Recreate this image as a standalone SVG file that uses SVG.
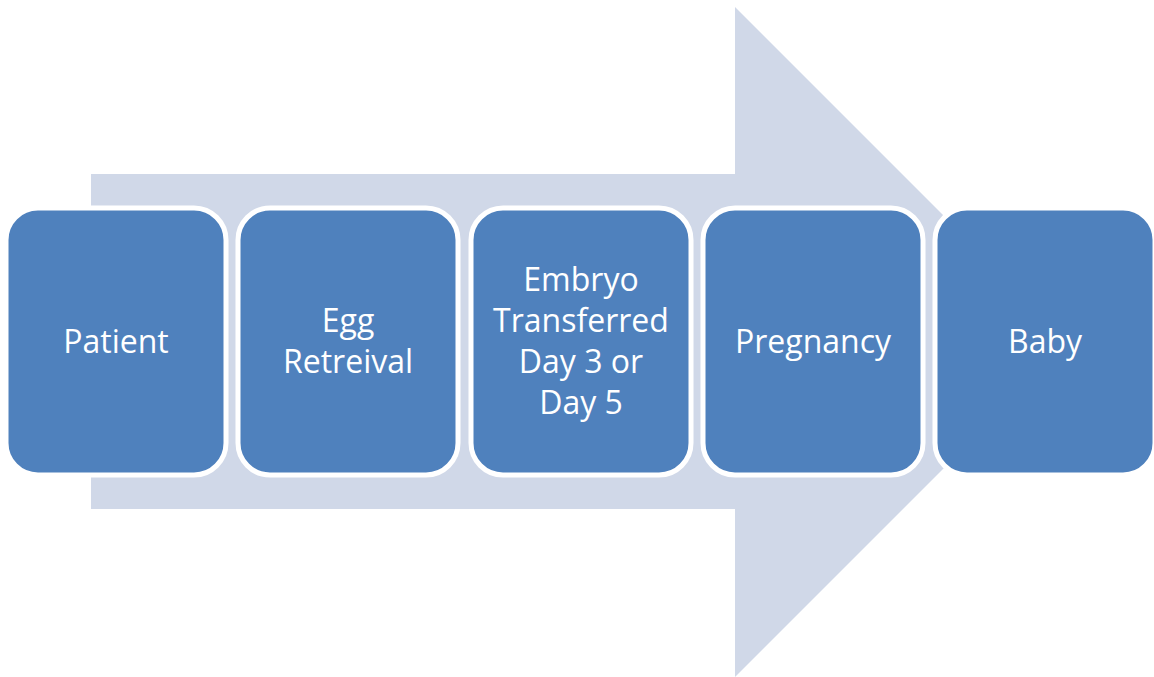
<svg xmlns="http://www.w3.org/2000/svg" width="1154" height="677" viewBox="0 0 1154 677">
<style>
.box{fill:#4F81BD;stroke:#FFFFFF;stroke-width:5}
.lbl{font-family:"Open Sans","Liberation Sans",sans-serif;font-size:32px;fill:#FFFFFF;text-anchor:middle}
</style>
<rect width="1154" height="677" fill="#FFFFFF"/>
<g id="connectors">
<polygon points="91,174 735,174 735,7 1070,342 735,677 735,509 91,509" fill="#D0D8E8"/>
</g>
<g id="patient"><rect class="box" x="6" y="208" width="220" height="267" rx="32"/><text class="lbl" x="116" y="353">Patient</text></g>
<g id="egg"><rect class="box" x="238" y="208" width="220" height="267" rx="32"/><text class="lbl" x="348" y="332">Egg</text><text class="lbl" x="348" y="373">Retreival</text></g>
<g id="embryo"><rect class="box" x="471" y="208" width="220" height="267" rx="32"/><text class="lbl" x="581" y="291">Embryo</text><text class="lbl" x="581" y="332">Transferred</text><text class="lbl" x="581" y="373">Day 3 or</text><text class="lbl" x="581" y="414">Day 5</text></g>
<g id="pregnancy"><rect class="box" x="703" y="208" width="220" height="267" rx="32"/><text class="lbl" x="813" y="353">Pregnancy</text></g>
<g id="baby"><rect class="box" x="935" y="208" width="220" height="267" rx="32"/><text class="lbl" x="1045" y="353">Baby</text></g>
</svg>
